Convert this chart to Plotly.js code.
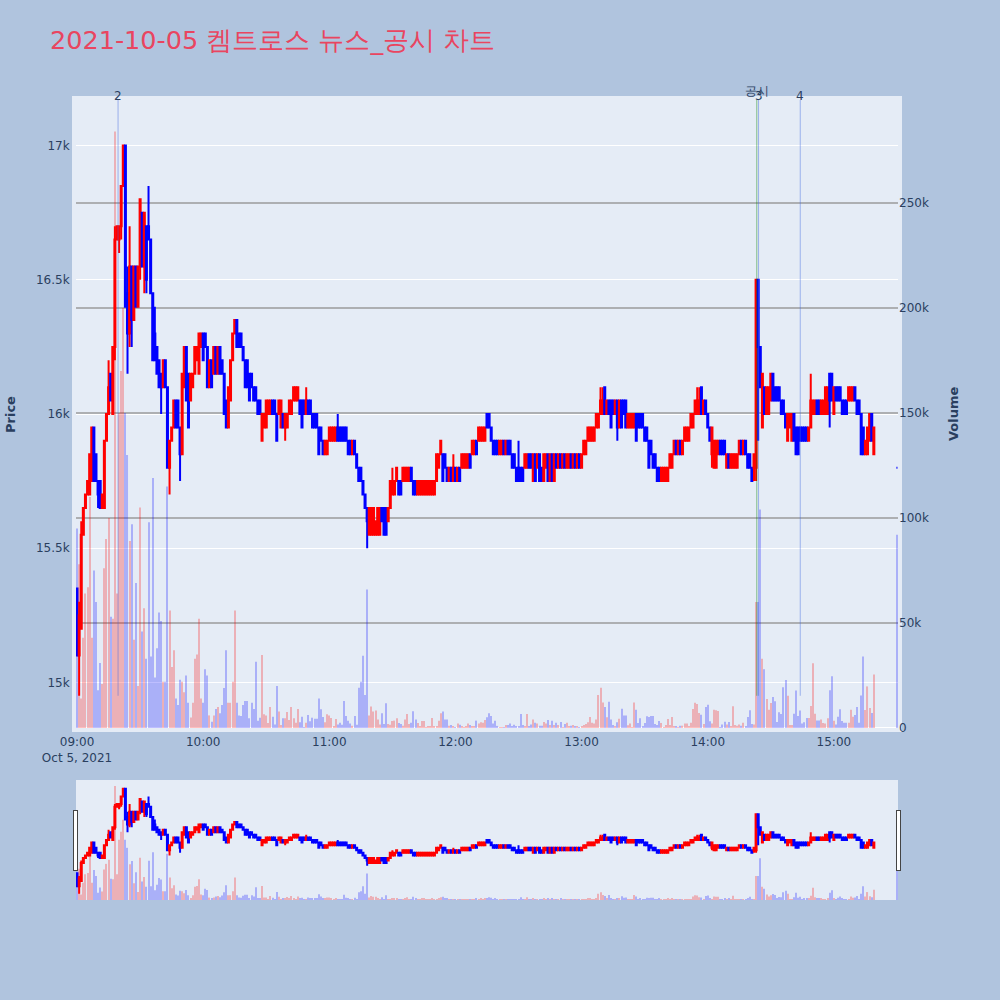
<!DOCTYPE html>
<html>
<head>
<meta charset="utf-8">
<script src="https://cdn.plot.ly/plotly-3.0.1.min.js"></script>
<style>html,body{margin:0;padding:0;background:#B0C4DE;}#chart{width:1000px;height:1000px;}</style>
</head>
<body>
<div id="chart"></div>
<script>
// ---- data (1-minute bars, 2021-10-05) ----
const tradeDate = '2021-10-05';
const sessionStartMinutes = 9 * 60;   // 09:00
const regularBars = 380;              // 09:00 .. 15:19
const closingAuctionTime = '2021-10-05 15:30';

const openPrice = [
15350,15100,15200,15550,15650,15700,15700,15750,15950,15850,
15750,15750,15650,15650,15900,16000,16150,16000,16250,16650,
16650,16700,16850,17000,16450,16300,16550,16350,16550,16400,
16550,16750,16550,16700,16700,16650,16450,16300,16250,16200,
16150,16100,16200,16100,15800,15900,15950,16050,16050,15950,
15850,16100,16250,16150,16050,16100,16150,16200,16150,16250,
16300,16300,16250,16100,16200,16150,16250,16150,16250,16200,
16150,16050,15950,16050,16200,16300,16350,16300,16300,16250,
16200,16200,16150,16150,16100,16100,16050,16050,15900,15950,
15950,16000,16000,16050,16050,16000,16000,15950,16000,15950,
15950,16000,16000,16050,16050,16050,16050,16050,16050,16000,
16050,16050,16000,16000,16000,15950,15950,15900,15850,15850,
15900,15900,15900,15900,15950,15950,15950,15950,15950,15900,
15900,15850,15900,15850,15800,15800,15750,15700,15650,15550,
15550,15550,15550,15550,15550,15650,15650,15650,15600,15650,
15700,15700,15750,15750,15750,15750,15750,15750,15750,15800,
15750,15750,15700,15700,15700,15700,15700,15700,15700,15700,
15700,15750,15800,15850,15850,15850,15800,15750,15800,15750,
15800,15750,15800,15800,15800,15800,15800,15850,15850,15850,
15900,15900,15900,15900,15900,16000,16000,15950,15900,15900,
15900,15850,15850,15900,15850,15900,15900,15850,15850,15800,
15800,15800,15800,15800,15800,15850,15850,15750,15850,15800,
15850,15800,15750,15800,15850,15750,15850,15750,15850,15800,
15850,15800,15850,15800,15800,15850,15800,15850,15800,15850,
15800,15850,15850,15900,15900,15900,15900,15950,15950,16000,
16000,16100,16000,16050,16050,16050,16000,16050,15950,16050,
16050,16050,15950,15950,15950,15950,16000,16000,16000,16000,
15950,15950,15900,15900,15850,15850,15800,15800,15750,15750,
15750,15750,15800,15800,15850,15900,15850,15900,15850,15900,
15900,15900,15950,15950,16000,16000,16000,16100,16000,16050,
16000,15950,15850,15800,15800,15850,15900,15900,15900,15800,
15850,15800,15800,15800,15800,15850,15900,15850,15900,15850,
15850,15800,15800,15800,16500,16250,15950,16100,16000,16000,
16050,16150,16100,16100,16100,16050,16050,16000,15900,15950,
15900,16000,15950,15950,15950,15950,15950,15950,15900,15950,
16000,16000,16050,16050,16000,16000,16000,16000,16150,16150,
16000,16100,16100,16100,16050,16050,16050,16050,16050,16050,
16100,16050,16050,16000,15950,15850,15850,15900,16000,15850,
15800];

const highPrice = [
15350,15300,15600,15650,15700,15750,15850,15950,15950,15850,
15750,15750,15700,15900,16000,16200,16150,16250,16700,16700,
16700,16850,17000,17000,16550,16700,16550,16550,16550,16550,
16800,16750,16750,16700,16850,16650,16450,16400,16250,16200,
16150,16200,16200,16100,15900,15950,16050,16050,16050,15950,
16150,16250,16250,16150,16150,16150,16250,16250,16300,16300,
16300,16300,16250,16200,16200,16250,16250,16250,16250,16200,
16150,16050,16100,16200,16300,16350,16350,16300,16300,16250,
16200,16200,16150,16150,16100,16100,16050,16050,16000,16000,
16050,16050,16050,16050,16050,16000,16050,16050,16000,16000,
16000,16050,16050,16100,16100,16100,16050,16050,16050,16100,
16050,16050,16000,16000,16000,15950,15950,15900,15900,15900,
15950,15950,15950,15950,16000,15950,15950,15950,15950,15900,
15900,15900,15900,15850,15800,15800,15750,15700,15650,15650,
15650,15650,15600,15650,15650,15650,15650,15650,15650,15750,
15800,15750,15800,15750,15750,15800,15800,15800,15800,15800,
15750,15750,15750,15750,15750,15750,15750,15750,15750,15750,
15750,15850,15850,15900,15850,15850,15800,15800,15800,15850,
15800,15800,15800,15850,15850,15850,15850,15850,15900,15900,
15900,15950,15950,15950,15950,16000,16000,15950,15900,15900,
15900,15900,15900,15900,15900,15900,15900,15850,15850,15800,
15900,15800,15800,15850,15850,15850,15850,15850,15850,15850,
15850,15800,15850,15850,15850,15850,15850,15850,15850,15850,
15850,15850,15850,15850,15850,15850,15850,15850,15850,15850,
15850,15900,15900,15950,15950,15950,15950,16000,16000,16100,
16100,16100,16050,16050,16050,16050,16050,16050,16050,16050,
16050,16050,16000,16000,16000,16000,16000,16000,16000,16000,
15950,15950,15900,15900,15850,15850,15800,15800,15800,15800,
15800,15800,15850,15850,15900,15900,15900,15900,15900,15950,
15950,15950,16000,16000,16050,16100,16100,16100,16050,16050,
16000,15950,15950,15900,15900,15900,15900,15900,15900,15850,
15850,15850,15850,15850,15850,15900,15900,15900,15900,15850,
15850,15800,15850,16500,16500,16250,16150,16100,16100,16100,
16150,16150,16100,16100,16100,16050,16050,16000,16000,16000,
16000,16000,15950,15950,15950,15950,15950,15950,15950,16150,
16050,16050,16050,16050,16050,16050,16100,16100,16150,16150,
16100,16100,16100,16100,16050,16050,16050,16100,16100,16100,
16100,16050,16050,16000,15950,15900,15950,16000,16000,15950,
15800];

const lowPrice = [
15100,14950,15200,15550,15650,15700,15700,15750,15750,15750,
15650,15650,15650,15650,15900,16000,16050,16000,16200,16650,
16600,16650,16850,16400,16150,16250,16250,16350,16400,16400,
16500,16550,16450,16450,16650,16450,16200,16200,16150,16100,
16000,16100,16100,15800,15700,15900,15950,15950,15950,15750,
15850,16100,16050,15950,16050,16100,16150,16200,16150,16250,
16200,16250,16100,16100,16100,16150,16150,16150,16150,16150,
16000,15950,15950,16050,16200,16300,16250,16250,16250,16200,
16100,16100,16050,16100,16050,16050,16000,16000,15900,15950,
15950,16000,16000,16000,16000,15900,16000,15950,15950,15900,
15950,16000,16000,16050,16050,16050,16000,15950,16000,16000,
16000,16000,15950,15950,15950,15850,15900,15850,15850,15850,
15900,15900,15900,15900,15900,15900,15900,15900,15900,15850,
15850,15850,15850,15800,15750,15750,15700,15650,15500,15550,
15550,15550,15550,15550,15550,15600,15550,15550,15600,15650,
15700,15700,15750,15700,15700,15750,15750,15750,15750,15750,
15700,15700,15700,15700,15700,15700,15700,15700,15700,15700,
15700,15750,15800,15850,15750,15800,15750,15750,15750,15750,
15750,15750,15750,15800,15800,15800,15800,15800,15850,15850,
15850,15900,15900,15900,15900,15950,15950,15900,15850,15850,
15850,15850,15850,15850,15850,15850,15850,15800,15800,15750,
15750,15750,15750,15800,15800,15800,15800,15750,15750,15800,
15750,15750,15750,15800,15750,15750,15750,15750,15800,15800,
15800,15800,15800,15800,15800,15800,15800,15800,15800,15800,
15800,15850,15850,15900,15900,15900,15900,15950,15950,16000,
16000,16000,16000,16000,15950,16000,16000,15900,15950,15950,
16000,15950,15950,15950,15950,15950,15900,15950,15950,15950,
15900,15900,15800,15850,15800,15800,15750,15750,15750,15750,
15750,15750,15800,15800,15850,15850,15850,15850,15850,15900,
15900,15900,15950,15950,16000,16000,16000,16000,16000,16000,
15950,15900,15800,15800,15800,15850,15850,15850,15850,15800,
15800,15800,15800,15800,15800,15850,15850,15850,15850,15800,
15800,15750,15750,15750,15900,16100,15950,16000,16000,16000,
16050,16050,16050,16050,16050,16000,16000,15950,15900,15950,
15900,15900,15850,15850,15900,15900,15900,15900,15900,15950,
16000,16000,16000,16000,16000,16000,16000,16000,15950,16050,
16000,16050,16050,16050,16000,16000,16000,16050,16050,16050,
16050,16000,16000,15850,15850,15850,15850,15900,15900,15850,
15800];

const closePrice = [
15100,15250,15550,15650,15700,15750,15850,15950,15750,15750,
15700,15650,15700,15900,16000,16100,16050,16250,16650,16700,
16700,16850,17000,16400,16300,16550,16350,16550,16400,16550,
16800,16550,16750,16500,16650,16450,16200,16200,16150,16100,
16100,16200,16100,15800,15900,15950,16050,15950,15950,15850,
16150,16250,16050,15950,16150,16150,16250,16250,16300,16300,
16200,16250,16100,16200,16100,16250,16150,16250,16150,16150,
16000,15950,16100,16200,16300,16350,16250,16250,16250,16200,
16100,16100,16050,16100,16050,16050,16000,16000,16000,16000,
16050,16050,16050,16000,16000,15900,16050,16050,15950,16000,
16000,16050,16050,16100,16100,16100,16000,15950,16000,16050,
16000,16000,15950,15950,15950,15850,15900,15850,15900,15900,
15950,15950,15950,15950,15900,15900,15900,15900,15900,15850,
15850,15900,15850,15800,15750,15750,15700,15650,15600,15650,
15650,15650,15600,15650,15650,15600,15550,15550,15650,15750,
15750,15750,15800,15700,15700,15800,15800,15800,15800,15750,
15700,15700,15750,15750,15750,15750,15750,15750,15750,15750,
15750,15850,15850,15900,15750,15800,15750,15800,15750,15800,
15750,15800,15750,15850,15850,15850,15850,15800,15900,15900,
15850,15950,15950,15950,15950,15950,15950,15900,15850,15850,
15850,15900,15900,15850,15900,15850,15850,15800,15800,15750,
15750,15750,15750,15850,15850,15800,15800,15850,15750,15850,
15750,15750,15850,15850,15750,15850,15750,15850,15800,15850,
15800,15850,15800,15850,15850,15800,15850,15800,15850,15800,
15850,15900,15900,15950,15950,15950,15950,16000,16000,16050,
16050,16000,16050,16000,15950,16000,16050,15950,16050,15950,
16000,15950,16000,16000,16000,16000,15900,15950,15950,15950,
15900,15900,15800,15850,15800,15800,15750,15750,15800,15800,
15800,15800,15850,15850,15900,15850,15900,15850,15900,15950,
15950,15950,16000,16000,16050,16050,16050,16000,16050,16000,
15950,15900,15950,15900,15900,15900,15850,15850,15850,15850,
15800,15850,15850,15850,15850,15900,15850,15900,15850,15800,
15800,15750,15850,16500,16250,16100,16150,16000,16100,16100,
16150,16050,16050,16050,16050,16000,16000,15950,16000,16000,
16000,15900,15850,15850,15900,15900,15900,15900,15950,16050,
16050,16050,16000,16000,16050,16050,16100,16100,16050,16050,
16100,16050,16050,16050,16000,16000,16000,16100,16100,16100,
16050,16000,16000,15850,15850,15900,15950,16000,15900,15950,
15800];

const volume = [
95000,78000,14000,43000,64000,67000,110000,43000,75000,60000,
18000,31000,21000,76000,90000,100000,53000,52000,284000,64000,
150000,170000,200000,150000,130000,89000,97000,42000,69000,20000,
105000,46000,57000,33000,98000,34000,119000,24000,38000,55000,
51000,22000,22000,115000,56000,29000,37000,14000,11000,23000,
22000,17000,25000,12000,5000,12000,33000,35000,52000,14000,
12000,28000,25000,6000,3000,6000,9000,10000,7000,11000,
19000,37000,12000,12000,22000,56000,12000,6000,
5700,10900,12900,12900,4600,12000,9000,31600,3500,4900,
34700,6500,6000,2400,10000,5400,1700,20000,7800,1400,
4600,4600,7600,3800,10000,4600,2500,9000,2700,5400,
300,2500,6200,3200,4900,4400,4400,14100,8900,5200,
2700,6500,6000,4800,900,4300,1700,2500,1600,12900,
5700,3500,2200,1100,5700,1600,19200,22000,34400,15700,
66000,6000,10200,7800,8300,4100,1700,7000,1900,11800,
1900,1600,3300,3500,4600,2400,1900,1100,4100,6700,
1900,2500,8000,4100,2400,1000,3300,3300,300,500,
500,4800,500,600,3500,7000,7800,4100,4100,1100,
1400,600,200,2200,1600,500,200,500,2200,1400,
500,1000,3500,2200,2700,2500,3800,5100,7000,5700,
2200,3500,1000,300,300,300,1400,1400,2200,600,
1600,1000,600,6700,1400,600,6700,600,1700,4100,
2500,2200,1100,1100,2900,2200,3800,1400,3500,1400,
2500,1400,2900,300,1900,2500,600,1100,
1400,1000,600,300,1000,1400,1900,2700,5200,2500,
2100,4000,15700,19200,12200,10000,5100,12500,4000,1400,
600,2700,4400,9200,5900,6000,1300,2100,200,12200,
8700,2400,4600,600,2400,5600,5200,5700,5700,1900,
1400,3300,2400,300,1400,4300,1400,5200,1000,1000,
200,1100,1100,2200,2200,600,2500,9000,12000,11400,
7100,6300,1900,10000,11100,3200,2100,8700,8400,8100,
200,1700,3000,1700,2900,800,10300,1400,1100,1700,
1100,2500,1000,5200,8400,1900,1700,
60000,60000,104000,
33000,28000,13800,8700,11900,14800,12700,2900,7500,6700,
19400,22800,15400,1400,1400,6800,17800,5700,8300,2100,
2700,4800,4800,10500,30800,6800,3600,3600,4100,2400,
2100,4600,18000,24600,3500,1700,5400,8900,3300,2500,
2500,2500,8700,5400,6200,10000,2500,15500,34000,8600,
19800,9500,7100,25500,
92000];

// event markers
const eventTimes = ['2021-10-05 09:19:30', '2021-10-05 14:24:10', '2021-10-05 14:44:00'];
const eventLabels = ['2', '3', '4'];
const disclosureTimes = ['2021-10-05 14:23:20'];
const disclosureLabels = ['공시'];
const markerLow = 14950;
const markerHigh = 17170;

const chartTitle = '2021-10-05 켐트로스 뉴스_공시 차트';
const priceAxisTitle = '<b>Price</b>';
const volumeAxisTitle = '<b>Volume</b>';

// ---- build x categories (minute timestamps) ----
function pad(n) { return (n < 10 ? '0' : '') + n; }
const times = [];
for (let i = 0; i < regularBars; i++) {
  const t = sessionStartMinutes + i;
  times.push(tradeDate + ' ' + pad(Math.floor(t / 60)) + ':' + pad(t % 60));
}
times.push(closingAuctionTime);

// volume colours follow candle direction
const volColors = closePrice.map((c, i) => {
  const o = openPrice[i];
  if (c > o) return 'red';
  if (c < o) return 'blue';
  const prev = i > 0 ? closePrice[i - 1] : c;
  return c >= prev ? 'red' : 'blue';
});

const candle = {
  type: 'candlestick',
  x: times, open: openPrice, high: highPrice, low: lowPrice, close: closePrice,
  increasing: { line: { color: 'red', width: 2 }, fillcolor: 'red' },
  decreasing: { line: { color: 'blue', width: 2 }, fillcolor: 'blue' },
  xaxis: 'x', yaxis: 'y', name: 'Price', showlegend: false
};
const vol = {
  type: 'bar', x: times, y: volume,
  marker: { color: volColors, line: { width: 0 } },
  opacity: 0.25,
  xaxis: 'x', yaxis: 'y2', name: 'Volume', showlegend: false
};

const bg = '#E5ECF6';
const txt = '#2a3f5f';
const shapes = [];
const annotations = [];
eventTimes.forEach((t, i) => {
  shapes.push({ type: 'line', xref: 'x', yref: 'y', x0: t, x1: t, y0: markerLow, y1: markerHigh,
    line: { color: 'royalblue', width: 1 }, opacity: 0.45 });
  annotations.push({ x: t, xref: 'x', y: 1, yref: 'paper', yanchor: 'middle', yshift: 4,
    text: eventLabels[i], showarrow: false, font: { size: 12, color: txt } });
});
disclosureTimes.forEach((t, i) => {
  shapes.push({ type: 'line', xref: 'x', yref: 'y', x0: t, x1: t, y0: markerLow, y1: markerHigh,
    line: { color: 'green', width: 1 }, opacity: 0.45 });
  annotations.push({ x: t, xref: 'x', y: 1, yref: 'paper', yanchor: 'middle', yshift: 9,
    text: disclosureLabels[i], showarrow: false, font: { size: 12, color: txt } });
});
// axis titles placed like the reference
annotations.push({ text: priceAxisTitle, xref: 'paper', yref: 'paper', x: -0.0803, y: 0.5,
  xanchor: 'center', yanchor: 'middle', textangle: -90, showarrow: false,
  font: { size: 13, color: txt } });
annotations.push({ text: volumeAxisTitle, xref: 'paper', yref: 'paper', x: 1.067, y: 0.5,
  xanchor: 'center', yanchor: 'middle', textangle: -90, showarrow: false,
  font: { size: 13, color: txt } });

const layout = {
  width: 1000, height: 1000,
  paper_bgcolor: '#B0C4DE', plot_bgcolor: bg,
  font: { family: 'DejaVu Sans, Verdana, sans-serif', size: 12, color: txt },
  title: { text: chartTitle, x: 0.05, xanchor: 'left', y: 0.96, yanchor: 'middle',
           font: { size: 25.5, color: '#E94560' } },
  margin: { l: 76, r: 102, t: 100, b: 100 },
  showlegend: false,
  bargap: 0.5,
  xaxis: {
    type: 'date', showgrid: false, zeroline: false,
    showline: true, mirror: true, linecolor: bg, linewidth: 4,
    rangeslider: { visible: true, thickness: 0.15, bgcolor: bg, borderwidth: 0 }
  },
  yaxis: {
    range: [14830, 17170], dtick: 500, gridcolor: 'white', gridwidth: 1, zeroline: false,
    showline: true, mirror: true, linecolor: bg, linewidth: 4
  },
  yaxis2: {
    overlaying: 'y', side: 'right', range: [0, 299000], dtick: 50000,
    showgrid: true, gridcolor: 'rgba(150,150,150,0.7)', gridwidth: 1.5,
    zeroline: true, zerolinecolor: 'white', zerolinewidth: 2
  },
  shapes: shapes,
  annotations: annotations
};

Plotly.newPlot('chart', [candle, vol], layout, { displayModeBar: false });
</script>
</body>
</html>
